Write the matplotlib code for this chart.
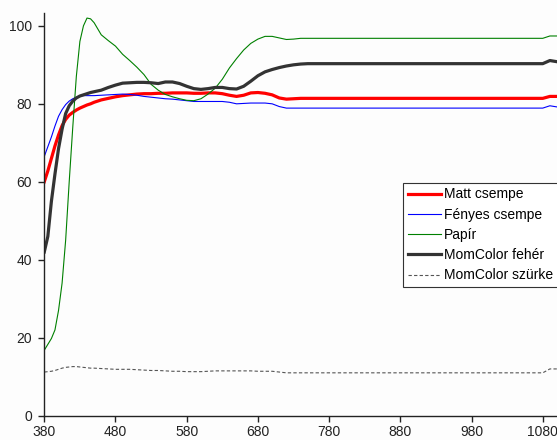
import matplotlib
matplotlib.use("Agg")
import matplotlib.pyplot as plt

plt.rcParams['font.family'] = ['Liberation Sans', 'DejaVu Sans']

# hullámhossz (nm)
wl = [380, 385, 390, 395, 400, 405, 410, 415, 420, 425, 430, 435, 440, 445, 450,
      460, 470, 480, 490, 500, 510, 520, 530, 540, 550, 560, 570, 580, 590, 600,
      610, 620, 630, 640, 650, 660, 670, 680, 690, 700, 710, 720, 730, 740, 750,
      1080, 1090, 1100]

matt = [60.0, 62.8, 66.0, 69.2, 72.0, 74.4, 76.0, 77.1, 77.8, 78.4, 78.9, 79.3, 79.7, 80.0, 80.4,
        81.0, 81.4, 81.8, 82.1, 82.3, 82.5, 82.6, 82.6, 82.7, 82.7, 82.8, 82.8, 82.8, 82.7, 82.7,
        82.8, 82.8, 82.6, 82.2, 81.9, 82.2, 82.8, 82.9, 82.7, 82.3, 81.5, 81.2, 81.3, 81.4, 81.4,
        81.4, 81.9, 81.9]

fenyes = [66.5, 69.0, 71.5, 74.3, 76.8, 78.5, 79.8, 80.7, 81.3, 81.7, 82.0, 82.1, 82.1, 82.1, 82.1,
          82.2, 82.3, 82.4, 82.5, 82.4, 82.2, 81.9, 81.7, 81.5, 81.3, 81.2, 81.0, 80.8, 80.6, 80.6,
          80.6, 80.6, 80.6, 80.4, 80.0, 80.1, 80.2, 80.2, 80.2, 80.0, 79.3, 78.9, 78.9, 78.9, 78.9,
          78.9, 79.5, 79.2]

papir = [16.8, 18.3, 19.8, 22.0, 27.0, 34.0, 45.0, 60.0, 74.0, 87.0, 96.0, 100.0, 102.0, 101.8, 100.8,
         97.7, 96.2, 94.8, 92.7, 91.1, 89.4, 87.5, 85.0, 83.5, 82.4, 81.8, 81.3, 80.9, 80.8, 81.3,
         82.5, 84.0, 86.3, 89.2, 91.6, 93.8, 95.5, 96.6, 97.3, 97.3, 96.9, 96.5, 96.6, 96.8, 96.8,
         96.8, 97.4, 97.4]

feher = [42.0, 46.0, 55.0, 62.0, 68.5, 73.5, 77.5, 79.5, 80.7, 81.5, 82.0, 82.3, 82.6, 82.9, 83.1,
         83.5, 84.2, 84.8, 85.3, 85.4, 85.5, 85.5, 85.4, 85.2, 85.6, 85.6, 85.2, 84.5, 83.9, 83.7,
         83.9, 84.2, 84.2, 83.9, 83.8, 84.5, 85.8, 87.2, 88.2, 88.8, 89.3, 89.7, 90.0, 90.2, 90.3,
         90.3, 91.1, 90.8]

szurke = [11.2, 11.3, 11.4, 11.6, 11.9, 12.2, 12.4, 12.5, 12.6, 12.6, 12.5, 12.4, 12.3, 12.2, 12.2,
          12.1, 12.0, 11.9, 11.9, 11.9, 11.8, 11.7, 11.6, 11.6, 11.5, 11.4, 11.4, 11.3, 11.3, 11.3,
          11.4, 11.5, 11.5, 11.5, 11.5, 11.5, 11.5, 11.4, 11.4, 11.4, 11.2, 11.0, 11.0, 11.0, 11.0,
          11.0, 12.0, 12.0]

xticks = [380, 480, 580, 680, 780, 880, 980, 1080]
yticks = [0, 20, 40, 60, 80, 100]

fig = plt.figure(figsize=(5.57, 4.4), dpi=100, facecolor='#fdfdfd')
ax = fig.add_axes([0.0795, 0.0552, 0.9205, 0.9153])
ax.set_facecolor('#fdfdfd')

ax.plot(wl, matt, color='#ff0000', lw=2.3, label='Matt csempe')
ax.plot(wl, fenyes, color='#0000ff', lw=0.8, label='Fényes csempe')
ax.plot(wl, papir, color='#008000', lw=0.8, label='Papír')
ax.plot(wl, feher, color='#333333', lw=2.3, label='MomColor fehér')
ax.plot(wl, szurke, color='#555555', lw=0.8, dashes=(3, 2), label='MomColor szürke')

ax.set_xlim(380, 1100)
ax.set_ylim(0, 103.3)
ax.set_xticks(xticks)
ax.set_yticks(yticks)

for side in ('top', 'right'):
    ax.spines[side].set_visible(False)
for side in ('left', 'bottom'):
    ax.spines[side].set_color('#222222')
    ax.spines[side].set_linewidth(1.0)

ax.tick_params(axis='both', direction='out', length=4, width=1.0, color='#222222',
               labelsize=10, labelcolor='#222222')
ax.tick_params(axis='x', pad=3)
ax.tick_params(axis='y', pad=5)

leg = ax.legend(loc='upper left', bbox_to_anchor=(0.723, 0.585),
                bbox_transform=fig.transFigure, fontsize=10, frameon=True,
                fancybox=False, edgecolor='#333333', facecolor='white', framealpha=1,
                handlelength=2.4, handletextpad=0.2, labelspacing=0.45,
                borderpad=0.35, borderaxespad=0)
leg.get_frame().set_linewidth(0.8)

fig.savefig('out.png', dpi=100, facecolor=fig.get_facecolor())
